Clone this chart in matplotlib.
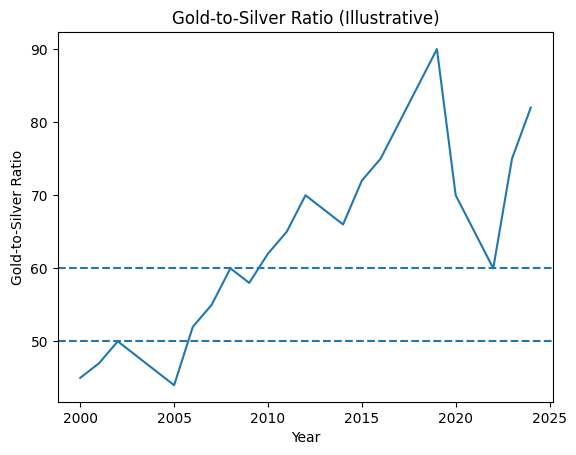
import matplotlib
matplotlib.use("Agg")
import matplotlib.pyplot as plt

years = list(range(2000, 2025))
ratio = [45, 47, 50, 48, 46, 44, 52, 55, 60, 58, 62, 65, 70, 68, 66, 72, 75,
         80, 85, 90, 70, 65, 60, 75, 82]
ref_lines = [60, 50]

fig = plt.figure(figsize=(5.76, 4.55), dpi=100)
ax = fig.add_axes([0.1002, 0.1165, 0.9606 - 0.1002, 0.929 - 0.1165])
ax.plot(years, ratio, color="#1f77b4")
for r in ref_lines:
    ax.axhline(r, linestyle="--", color="#1f77b4")
ax.set_title("Gold-to-Silver Ratio (Illustrative)")
ax.set_xlabel("Year")
ax.set_ylabel("Gold-to-Silver Ratio")
fig.savefig("out.png", dpi=100)
